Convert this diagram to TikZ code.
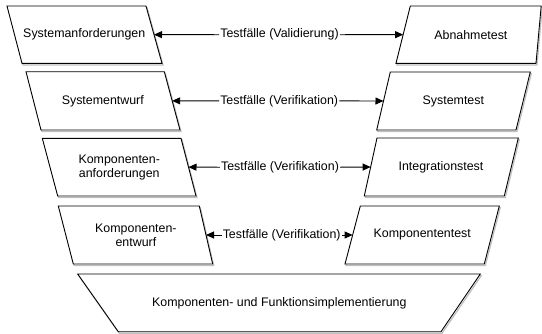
\documentclass[tikz,border=0pt]{standalone}
\usepackage{fontspec}
\setmainfont{Liberation Sans}
\usetikzlibrary{arrows.meta}

% slanted box: name, top-left x, top-right x, bottom-left x, bottom-right x, top y, bottom y, text
\newcommand{\slantbox}[8]{%
  \draw[boxshadow] ({#2+1},{#6+1.6}) -- ({#3+1},{#6+1.6}) -- ({#5+1},{#7+1.6}) -- ({#4+1},{#7+1.6}) -- cycle;
  \draw[boxline] (#2,#6) -- (#3,#6) -- (#5,#7) -- (#4,#7) -- cycle;
  \node[boxtext] (#1) at ({(#2+#3+#4+#5)/4},{(#6+#7)/2}) {#8};
  \coordinate (#1-w) at ({(#2+#4)/2},{(#6+#7)/2});
  \coordinate (#1-e) at ({(#3+#5)/2},{(#6+#7)/2});
}

\begin{document}
\begin{tikzpicture}[x=1pt,y=-1pt,
  boxline/.style={draw=black,line width=0.9pt,fill=white,line join=miter},
  boxshadow/.style={draw=black!25,line width=1.2pt},
  boxtext/.style={align=center,inner sep=0pt,font=\fontsize{12.4}{14}\selectfont},
  testlabel/.style={inner sep=1pt,font=\fontsize{12.4}{14}\selectfont},
  link/.style={draw=black,line width=0.9pt,-{Triangle[length=8pt,width=7pt]}}]
\useasboundingbox (0,0) rectangle (542,333);

% development side
\slantbox{b1}{7}{146}{22}{162}{6}{63.3}{Systemanforderungen}
\slantbox{b2}{26}{164.3}{41}{180}{71.7}{130}{Systementwurf}
\slantbox{b3}{42.3}{181}{57.7}{196}{138.3}{196}{Komponenten-\\anforderungen}
\slantbox{b4}{58.3}{199.3}{73.3}{212.7}{206}{264}{Komponenten-\\entwurf}

% test side
\slantbox{a1}{410.3}{541.2}{396}{536}{6}{63.3}{Abnahmetest}
\slantbox{a2}{390.3}{530.3}{376.7}{516}{72}{130}{Systemtest}
\slantbox{a3}{377}{518.3}{364.3}{504.3}{138}{196}{Integrationstest}
\slantbox{a4}{360.3}{499.3}{345}{484.3}{206}{264}{Komponententest}

% implementation at the bottom of the V
\slantbox{impl}{77.7}{480.3}{118.3}{441}{274}{331.7}{Komponenten- und Funktionsimplementierung}

% test case labels
\node[testlabel] (t1) at (279.5,34.7) {Testfälle (Validierung)};
\node[testlabel] (t2) at (279.2,100.9) {Testfälle (Verifikation)};
\node[testlabel] (t3) at (280,167.2) {Testfälle (Verifikation)};
\node[testlabel] (t4) at (281.7,235) {Testfälle (Verifikation)};

\draw[link] (t1.west) -- (b1-e);
\draw[link] (t1.east) -- (a1-w);
\draw[link] (t2.west) -- (b2-e);
\draw[link] (t2.east) -- (a2-w);
\draw[link] (t3.west) -- (b3-e);
\draw[link] (t3.east) -- (a3-w);
\draw[link] (t4.west) -- (b4-e);
\draw[link] (t4.east) -- (a4-w);
\end{tikzpicture}
\end{document}
